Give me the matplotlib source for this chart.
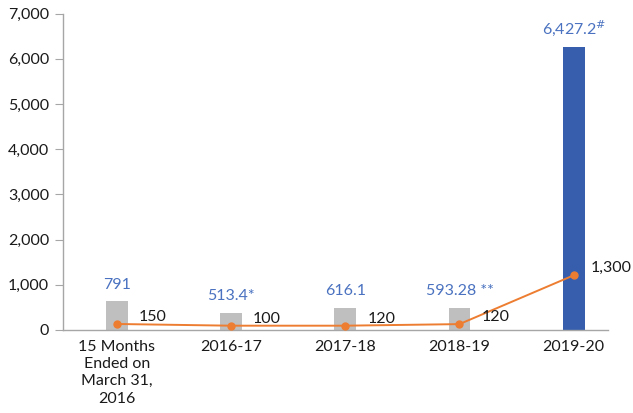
import matplotlib
matplotlib.use("Agg")
import matplotlib.pyplot as plt

plt.rcParams['font.family'] = ['Lato', 'DejaVu Sans']

categories = ["15 Months\nEnded on\nMarch 31,\n2016", "2016-17", "2017-18", "2018-19", "2019-20"]
bar_values = [640, 385, 490, 490, 6265]
bar_labels = ["791", "513.4*", "616.1", "593.28 **", "6,427.2$^{\\#}$"]
line_values = [133, 95, 95, 130, 1210]
line_labels = ["150", "100", "120", "120", "1,300"]
yticks = [0, 1000, 2000, 3000, 4000, 5000, 6000, 7000]
ytick_labels = ["0", "1,000", "2,000", "3,000", "4,000", "5,000", "6,000", "7,000"]

bar_colors = ["#bfbfbf", "#bfbfbf", "#bfbfbf", "#bfbfbf", "#365ead"]
line_label_dx = [16, 16, 16, 16, 12]
label_blue = "#4a72c0"
orange = "#ed7d31"
axis_gray = "#a6a6a6"

fig = plt.figure(figsize=(6.33, 4.13), dpi=100)
ax = fig.add_axes([0.0995, 0.201, 0.861, 0.766])

x = list(range(len(categories)))
ax.bar(x, bar_values, width=0.19, color=bar_colors, zorder=2)
ax.plot(x, line_values, color=orange, lw=1.4, marker='o', ms=5, zorder=3)

for xi, h, lab in zip(x, bar_values, bar_labels):
    ax.annotate(lab, xy=(xi, h), xytext=(0, 9), textcoords='offset points',
                ha='center', va='baseline', color=label_blue, fontsize=11.5)

for xi, v, lab, dx in zip(x, line_values, line_labels, line_label_dx):
    ax.annotate(lab, xy=(xi, v), xytext=(dx, 5), textcoords='offset points',
                ha='left', va='center', color='#1a1a1a', fontsize=11.5)

ax.set_xlim(-0.47, 4.30)
ax.set_ylim(0, 7000)
ax.set_yticks(yticks)
ax.set_yticklabels(ytick_labels)
ax.set_xticks(x)
ax.set_xticklabels(categories, linespacing=1.3)

for s in ['top', 'right']:
    ax.spines[s].set_visible(False)
for s in ['left', 'bottom']:
    ax.spines[s].set_color(axis_gray)
    ax.spines[s].set_linewidth(1.0)

ax.tick_params(axis='y', length=6, color=axis_gray, labelsize=11.5, labelcolor='#1a1a1a', pad=4)
ax.tick_params(axis='x', length=0, labelsize=11.5, labelcolor='#1a1a1a', pad=7)

fig.savefig("out.png", dpi=100)
